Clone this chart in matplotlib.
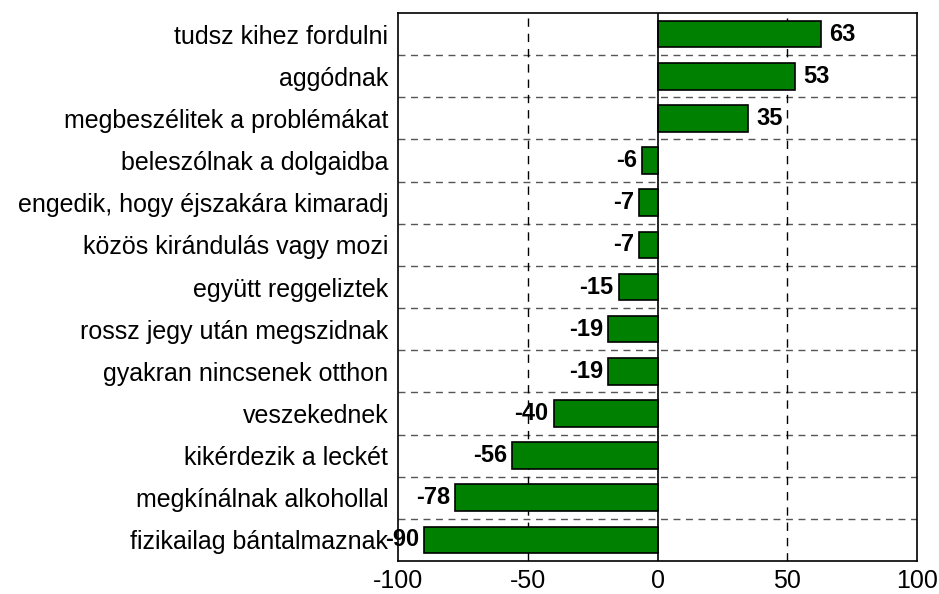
import numpy as np
import matplotlib.pyplot as plt

plt.rcParams['font.family'] = ['Liberation Sans', 'DejaVu Sans']

# categories top to bottom
categories = ['tudsz kihez fordulni', 'aggódnak', 'megbeszélitek a problémákat',
              'beleszólnak a dolgaidba', 'engedik, hogy éjszakára kimaradj',
              'közös kirándulás vagy mozi', 'együtt reggeliztek',
              'rossz jegy után megszidnak', 'gyakran nincsenek otthon',
              'veszekednek', 'kikérdezik a leckét', 'megkínálnak alkohollal',
              'fizikailag bántalmaznak']
values = [63, 53, 35, -6, -7, -7, -15, -19, -19, -40, -56, -78, -90]
xticks = [-100, -50, 0, 50, 100]

fig = plt.figure(figsize=(9.39, 5.94), dpi=100)
ax = fig.add_axes([398/939, 1-561/594, 519/939, 548/594])

n = len(categories)
y = np.arange(n)[::-1]
ax.barh(y, values, height=0.63, color='#008000', edgecolor='black', linewidth=1.2, zorder=3)

# grid lines between categories
for b in np.arange(n - 1) + 0.5:
    ax.axhline(b, color='#555555', linestyle=(0, (5, 4)), linewidth=1, zorder=1)
for xv in [-50, 50]:
    ax.axvline(xv, color='black', linestyle=(0, (6, 5)), linewidth=1, zorder=1)
ax.axvline(0, color='black', linewidth=1.2, zorder=4)

for yi, v in zip(y, values):
    if v >= 0:
        ax.text(v + 3.3, yi, str(v), ha='left', va='center', fontsize=17, fontweight='bold', zorder=5)
    else:
        ax.text(v - 2, yi, str(v), ha='right', va='center', fontsize=17, fontweight='bold', zorder=5)

ax.set_xlim(-100, 100)
ax.set_ylim(-0.5, n - 0.5)
ax.set_xticks(xticks)
ax.set_xticklabels([str(t) for t in xticks], fontsize=18)
ax.set_yticks(y)
ax.set_yticklabels(categories, fontsize=18)
ax.tick_params(length=0, pad=7)
ax.tick_params(axis='x', pad=6)
for s in ax.spines.values():
    s.set_linewidth(1.2)

fig.savefig('out.png', dpi=100)
